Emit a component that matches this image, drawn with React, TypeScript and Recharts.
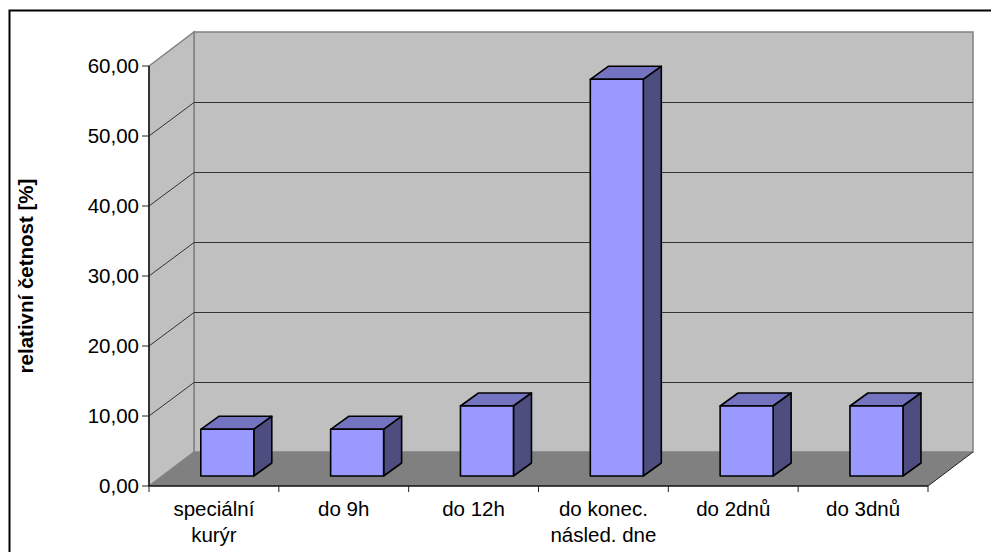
import { BarChart, Bar, XAxis, YAxis, Customized } from "recharts";

const categories = ["speciální\nkurýr", "do 9h", "do 12h", "do konec.\nnásled. dne", "do 2dnů", "do 3dnů"];
const frequencies = [6.67, 6.67, 10, 56.67, 10, 10];
const valueTicks = [0, 10, 20, 30, 40, 50, 60];

const data = categories.map((name, i) => ({ name, value: frequencies[i] }));

const WIDTH = 991;
const HEIGHT = 552;
const PLOT = { left: 149, top: 66, right: 928, bottom: 486 };
const MAX_VALUE = 60;

// depth of the fake 3D box, and how far into it the columns stand
const DEPTH_X = 45;
const DEPTH_Y = 34;
const BAR_SHIFT_X = 13.8;
const BAR_SHIFT_Y = 10;
const BAR_DEPTH_X = 18;
const BAR_DEPTH_Y = 13;

const FONT = "'Liberation Sans', Arial, sans-serif";
const FONT_SIZE = 20.5;
const WALL = "#c0c0c0";
const FLOOR = "#808080";
const GRID = "#333333";

const valueY = (v: number) => PLOT.bottom - ((PLOT.bottom - PLOT.top) * v) / MAX_VALUE;

function Walls() {
  const { left, right, top, bottom } = PLOT;
  const backTop = top - DEPTH_Y;
  const backBottom = bottom - DEPTH_Y;
  const backLeft = left + DEPTH_X;
  const backRight = right + DEPTH_X;
  return (
    <g>
      <rect x={backLeft} y={backTop} width={right - left} height={bottom - top} fill={WALL} stroke={FLOOR} strokeWidth={1.5} />
      <polygon points={`${left},${top} ${backLeft},${backTop} ${backLeft},${backBottom} ${left},${bottom}`} fill={WALL} stroke={FLOOR} strokeWidth={1.5} />
      <polygon points={`${left},${bottom} ${backLeft},${backBottom} ${backRight},${backBottom} ${right},${bottom}`} fill={FLOOR} />
      <line x1={right} y1={bottom} x2={backRight} y2={backBottom} stroke="#222222" strokeWidth={1} />
      {valueTicks.slice(1, -1).map((v) => (
        <polyline
          key={v}
          // half-pixel nudge keeps the horizontal run one pixel thick
          points={`${left},${valueY(v)} ${backLeft},${valueY(v) - DEPTH_Y + 0.5} ${backRight},${valueY(v) - DEPTH_Y + 0.5}`}
          fill="none"
          stroke={GRID}
          strokeWidth={1}
        />
      ))}
    </g>
  );
}

function Column({ x, y, width, height }: any) {
  const l = x + BAR_SHIFT_X;
  const r = l + width;
  const t = y - BAR_SHIFT_Y;
  const b = t + height;
  const dx = BAR_DEPTH_X;
  const dy = BAR_DEPTH_Y;
  return (
    <g stroke="#000000" strokeWidth={1.6} strokeLinejoin="round">
      <polygon points={`${l},${t} ${l + dx},${t - dy} ${r + dx},${t - dy} ${r},${t}`} fill="#7373bf" />
      <polygon points={`${r},${t} ${r + dx},${t - dy} ${r + dx},${b - dy} ${r},${b}`} fill="#4d4d80" />
      <rect x={l} y={t} width={width} height={height} fill="#9999ff" />
    </g>
  );
}

function CategoryTick({ x, payload, index }: any) {
  const band = (PLOT.right - PLOT.left) / categories.length;
  const lines = String(payload.value).split("\n");
  const edge = x - band / 2;
  return (
    <g>
      <line x1={edge} y1={PLOT.bottom} x2={edge} y2={PLOT.bottom + 6} stroke="#222222" strokeWidth={1} />
      {index === categories.length - 1 && (
        <line x1={edge + band} y1={PLOT.bottom} x2={edge + band} y2={PLOT.bottom + 6} stroke="#222222" strokeWidth={1} />
      )}
      <text textAnchor="middle" fontFamily={FONT} fontSize={FONT_SIZE} fill="#000000">
        {lines.map((line, i) => (
          <tspan key={i} x={x} y={PLOT.bottom + 30 + i * 26}>
            {line}
          </tspan>
        ))}
      </text>
    </g>
  );
}

export default function App() {
  return (
    <div style={{ position: "absolute", left: 0, top: 0, width: WIDTH, height: HEIGHT, background: "#ffffff" }}>
      <BarChart
        width={WIDTH}
        height={HEIGHT}
        data={data}
        margin={{ left: 0, top: PLOT.top, right: WIDTH - PLOT.right, bottom: 0 }}
        barSize={53}
      >
        <Customized component={Walls} />
        <XAxis
          dataKey="name"
          height={HEIGHT - PLOT.bottom}
          interval={0}
          axisLine={{ stroke: "#111111", strokeWidth: 1.5 }}
          tickLine={false}
          tick={<CategoryTick />}
        />
        <YAxis
          width={PLOT.left}
          domain={[0, MAX_VALUE]}
          ticks={valueTicks}
          interval={0}
          axisLine={{ stroke: "#111111", strokeWidth: 1.5 }}
          tickLine={{ stroke: "#222222" }}
          tickSize={7}
          tickMargin={3}
          tickFormatter={(v: number) => v.toFixed(2).replace(".", ",")}
          tick={{ fontFamily: FONT, fontSize: FONT_SIZE, fill: "#000000" }}
          label={({ viewBox }: any) => (
            <text
              transform={`translate(33, ${viewBox.y + viewBox.height / 2}) rotate(-90)`}
              textAnchor="middle"
              fontFamily={FONT}
              fontSize={FONT_SIZE}
              fontWeight={700}
              fill="#000000"
            >
              relativní četnost [%]
            </text>
          )}
        />
        <Bar dataKey="value" fill="#9999ff" shape={<Column />} isAnimationActive={false} />
      </BarChart>
      <svg width={WIDTH} height={HEIGHT} style={{ position: "absolute", left: 0, top: 0, pointerEvents: "none" }}>
        <rect x={9.5} y={10.5} width={WIDTH + 20} height={HEIGHT + 20} fill="none" stroke="#000000" strokeWidth={2} />
      </svg>
    </div>
  );
}
